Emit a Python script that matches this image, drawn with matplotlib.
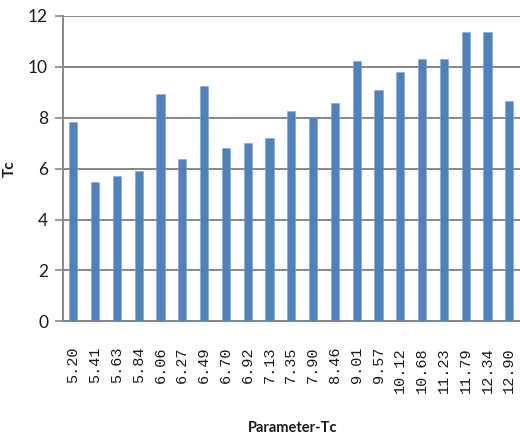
import matplotlib
matplotlib.use("Agg")
import matplotlib.pyplot as plt
import numpy as np

# Category labels along the x axis and the Tc value for each
categories = ["5.20", "5.41", "5.63", "5.84", "6.06", "6.27", "6.49", "6.70",
              "6.92", "7.13", "7.35", "7.90", "8.46", "9.01", "9.57", "10.12",
              "10.68", "11.23", "11.79", "12.34", "12.90"]
tc_values = [7.82, 5.47, 5.71, 5.92, 8.95, 6.38, 9.25, 6.83, 6.99, 7.22, 8.27,
             8.03, 8.57, 10.24, 9.11, 9.79, 10.31, 10.31, 11.38, 11.38, 8.65]
y_ticks = [0, 2, 4, 6, 8, 10, 12]

sans = ["Lato", "DejaVu Sans"]
mono = ["Liberation Mono", "DejaVu Sans Mono"]
grid_col = "#878787"
bar_col = "#4f81bd"

fig = plt.figure(figsize=(5.2, 4.36), dpi=100)
ax = fig.add_axes([63.3 / 520, 1 - 321.3 / 436, 1 - 63.3 / 520, (321.3 - 16) / 436])

x = np.arange(len(categories))
ax.bar(x, tc_values, width=0.37, color=bar_col, edgecolor="#7fa3d4",
       linewidth=0.4, zorder=3)

ax.set_ylim(0, 12)
ax.set_xlim(-0.46, 20.49)
ax.set_yticks(y_ticks)
ax.set_yticklabels([str(v) for v in y_ticks], family=sans, fontsize=12.5,
                   color="#1a1a1a")
ax.yaxis.grid(True, color=grid_col, linewidth=1.4, zorder=0)
ax.set_axisbelow(True)

ax.set_xticks(x)
ax.set_xticklabels(categories, rotation=90, family=mono, fontsize=11,
                   color="#1a1a1a")
ax.tick_params(axis="x", length=0, pad=18.5)
ax.tick_params(axis="y", length=6, width=1.2, color=grid_col, pad=5)

for side in ("top", "right"):
    ax.spines[side].set_visible(False)
for side in ("left", "bottom"):
    ax.spines[side].set_color(grid_col)
    ax.spines[side].set_linewidth(1.4)

ax.set_xlabel("Parameter-Tc", family=sans, fontweight="bold", fontsize=10.5,
              color="#1a1a1a")
ax.xaxis.set_label_coords(0.503, -0.348)
ax.xaxis.label.set_va("center")
ax.set_ylabel("Tc", family=sans, fontweight="bold", fontsize=11,
              color="#1a1a1a")
ax.yaxis.set_label_coords(-0.117, 0.5)
ax.yaxis.label.set_va("center")

fig.savefig("out.png", dpi=100)
